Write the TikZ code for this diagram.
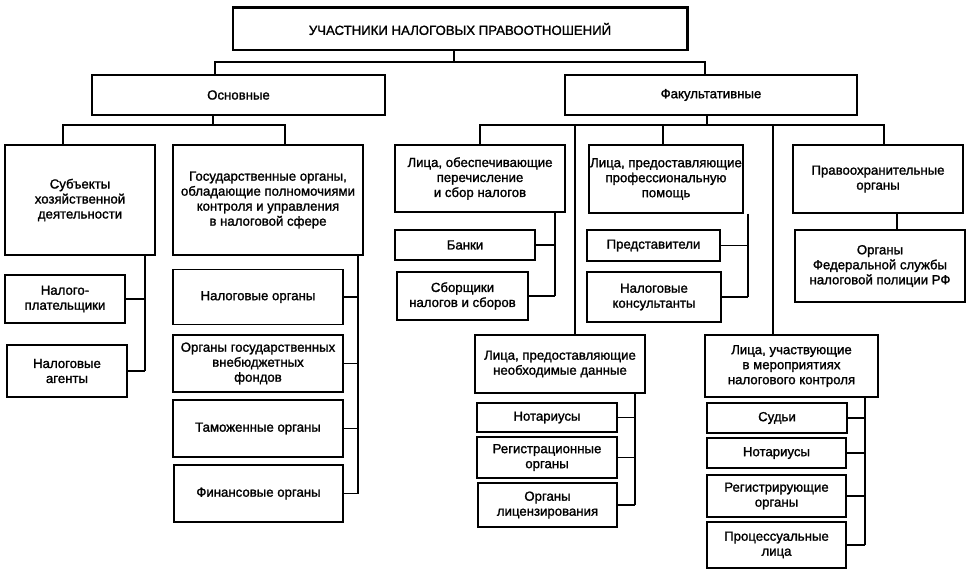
\documentclass[tikz,border=0pt]{standalone}
\usepackage{fontspec}
\setmainfont{Liberation Sans}[FakeBold=1.4]

\tikzset{
  box/.style={draw, line width=1.4pt, align=center, inner sep=1pt,
    font=\fontsize{13.2}{15}\selectfont},
  link/.style={line width=1.3pt},
}

\begin{document}
\begin{tikzpicture}[x=1pt,y=-1pt]
  \useasboundingbox (0,0) rectangle (972,577);
  % top levels
  \node[box, minimum width=454pt, minimum height=42pt] (title) at (460,29) {УЧАСТНИКИ НАЛОГОВЫХ ПРАВООТНОШЕНИЙ};
  \draw[line width=2.6pt] (title.north west) -- (title.north east) -- (title.south east);
  \node[box, minimum width=293pt, minimum height=40pt] (osn) at (238.5,95) {Основные};
  \node[box, minimum width=292pt, minimum height=40pt] (fak) at (711,95) {Факультативные};
  % main participants
  \node[box, minimum width=150pt, minimum height=110pt] (subj) at (80,200) {Субъекты\\хозяйственной\\деятельности};
  \node[box, minimum width=120pt, minimum height=48pt] (nalpl) at (65,299) {Налого-\\плательщики};
  \node[box, minimum width=120pt, minimum height=52pt] (agent) at (67,371) {Налоговые\\агенты};
  \node[box, minimum width=190pt, minimum height=110pt] (gos) at (268,200) {Государственные органы,\\обладающие полномочиями\\контроля и управления\\в налоговой сфере};
  \node[box, minimum width=170pt, minimum height=55pt] (nalorg) at (258,297) {Налоговые органы};
  \node[box, minimum width=170pt, minimum height=57pt] (vneb) at (258,363.5) {Органы государственных\\внебюджетных\\фондов};
  \node[box, minimum width=170pt, minimum height=57pt] (tamozh) at (258,428.5) {Таможенные органы};
  \node[box, minimum width=169pt, minimum height=57pt] (fin) at (258.5,493.5) {Финансовые органы};
  % optional participants
  \node[box, minimum width=170pt, minimum height=67pt] (obesp) at (480,178.5) {Лица, обеспечивающие\\перечисление\\и сбор налогов};
  \node[box, minimum width=140pt, minimum height=30pt] (banki) at (465,245) {Банки};
  \node[box, minimum width=131pt, minimum height=48pt] (sborsh) at (462.5,296) {Сборщики\\налогов и сборов};
  \node[box, minimum width=152pt, minimum height=68pt] (prof) at (666,179) {Лица, предоставляющие\\профессиональную\\помощь};
  \node[box, minimum width=133pt, minimum height=31pt] (predst) at (653.5,245.5) {Представители};
  \node[box, minimum width=134pt, minimum height=50pt] (konsult) at (654,297) {Налоговые\\консультанты};
  \node[box, minimum width=170pt, minimum height=68pt] (pravo) at (878,179) {Правоохранительные\\органы};
  \node[box, minimum width=170pt, minimum height=72pt] (fsnp) at (880,266) {Органы\\Федеральной службы\\налоговой полиции РФ};
  \node[box, minimum width=170pt, minimum height=58pt] (dannye) at (560,364) {Лица, предоставляющие\\необходимые данные};
  \node[box, minimum width=140pt, minimum height=29pt] (notara) at (547,417.5) {Нотариусы};
  \node[box, minimum width=140pt, minimum height=41pt] (regorg) at (547,457.5) {Регистрационные\\органы};
  \node[box, minimum width=139pt, minimum height=44pt] (licenz) at (547.5,505) {Органы\\лицензирования};
  \node[box, minimum width=173pt, minimum height=62pt] (uchast) at (791.5,366) {Лица, участвующие\\в мероприятиях\\налогового контроля};
  \node[box, minimum width=140pt, minimum height=30pt] (sudi) at (777,418) {Судьи};
  \node[box, minimum width=139pt, minimum height=30pt] (notarb) at (776.5,453) {Нотариусы};
  \node[box, minimum width=139pt, minimum height=42pt] (registr) at (776.5,496) {Регистрирующие\\органы};
  \node[box, minimum width=139pt, minimum height=46pt] (process) at (776.5,545) {Процессуальные\\лица};

  % first level
  \coordinate (top) at (454,62);
  \coordinate (osnx) at (215,62);
  \coordinate (fakx) at (705,62);
  \draw[link] (title.south -| top) -- (top);
  \draw[link] (osn.north -| osnx) -- (osnx) -- (fakx) -- (fak.north -| fakx);
  % second level, left
  \coordinate (osnbus) at (213,125);
  \coordinate (subjx) at (63,125);
  \coordinate (gosx) at (285,125);
  \draw[link] (osn.south -| osnbus) -- (osnbus);
  \draw[link] (subj.north -| subjx) -- (subjx) -- (gosx) -- (gos.north -| gosx);
  % second level, right
  \coordinate (fakbus) at (707,125);
  \coordinate (obx) at (480,125);
  \coordinate (danx) at (575,125);
  \coordinate (profx) at (663,125);
  \coordinate (uchx) at (773,125);
  \coordinate (pravx) at (884,125);
  \draw[link] (fak.south -| fakbus) -- (fakbus);
  \draw[link] (obesp.north -| obx) -- (obx) -- (pravx) -- (pravo.north -| pravx);
  \draw[link] (danx) -- (dannye.north -| danx);
  \draw[link] (profx) -- (prof.north -| profx);
  \draw[link] (uchx) -- (uchast.north -| uchx);

  % side buses
  \coordinate (subjbus) at (145,0);
  \draw[link] (subj.south -| subjbus) -- (agent.east -| subjbus);
  \foreach \n in {nalpl,agent}
    \draw[link] (\n.east) -- (\n.east -| subjbus);
  \coordinate (gosbus) at (358,0);
  \draw[link] (gos.south -| gosbus) -- (fin.east -| gosbus);
  \foreach \n in {nalorg,vneb,tamozh,fin}
    \draw[link] (\n.east) -- (\n.east -| gosbus);
  \coordinate (obbus) at (555,0);
  \draw[link] (obesp.south -| obbus) -- (sborsh.east -| obbus);
  \foreach \n in {banki,sborsh}
    \draw[link] (\n.east) -- (\n.east -| obbus);
  \coordinate (profbus) at (748,0);
  \draw[link] (prof.south -| profbus) -- (konsult.east -| profbus);
  \foreach \n in {predst,konsult}
    \draw[link] (\n.east) -- (\n.east -| profbus);
  \coordinate (pravbus) at (897,0);
  \draw[link] (pravo.south -| pravbus) -- (fsnp.north -| pravbus);
  \coordinate (danbus) at (635,0);
  \draw[link] (dannye.south -| danbus) -- (licenz.east -| danbus);
  \foreach \n in {notara,regorg,licenz}
    \draw[link] (\n.east) -- (\n.east -| danbus);
  \coordinate (uchbus) at (865,0);
  \draw[link] (uchast.south -| uchbus) -- (process.east -| uchbus);
  \foreach \n in {sudi,notarb,registr,process}
    \draw[link] (\n.east) -- (\n.east -| uchbus);
\end{tikzpicture}
\end{document}
